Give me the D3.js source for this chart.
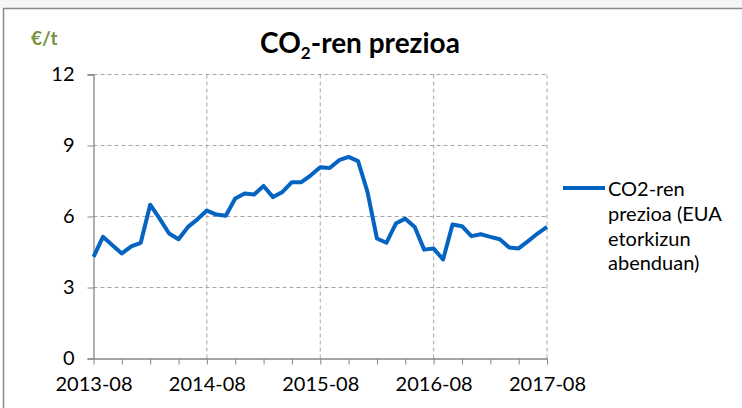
<!DOCTYPE html>
<html>
<head>
<meta charset="utf-8">
<script src="https://cdn.jsdelivr.net/npm/d3@7"></script>
<style>
  body { margin: 0; background: #fff; }
  text { font-family: Lato, "Open Sans", sans-serif; }
</style>
</head>
<body>
<div id="chart"></div>
<script>
// data
var months = [
  "2013-08","2013-09","2013-10","2013-11","2013-12","2014-01","2014-02","2014-03","2014-04","2014-05","2014-06","2014-07",
  "2014-08","2014-09","2014-10","2014-11","2014-12","2015-01","2015-02","2015-03","2015-04","2015-05","2015-06","2015-07",
  "2015-08","2015-09","2015-10","2015-11","2015-12","2016-01","2016-02","2016-03","2016-04","2016-05","2016-06","2016-07",
  "2016-08","2016-09","2016-10","2016-11","2016-12","2017-01","2017-02","2017-03","2017-04","2017-05","2017-06","2017-07",
  "2017-08"
];
var prices = [
  4.29, 5.14, 4.79, 4.44, 4.74, 4.89, 6.50, 5.91, 5.28, 5.04, 5.56, 5.88,
  6.25, 6.08, 6.03, 6.76, 6.97, 6.93, 7.29, 6.82, 7.04, 7.45, 7.45, 7.74,
  8.08, 8.05, 8.38, 8.52, 8.34, 7.04, 5.07, 4.89, 5.70, 5.91, 5.56, 4.60,
  4.65, 4.18, 5.66, 5.59, 5.17, 5.25, 5.14, 5.04, 4.69, 4.65, 4.96, 5.28,
  5.56
];
var yTicks = [0, 3, 6, 9, 12];
var xLabels = ["2013-08", "2014-08", "2015-08", "2016-08", "2017-08"];
var legendLines = ["CO2-ren", "prezioa (EUA", "etorkizun", "abenduan)"];

var width = 742, height = 408;
var margin = {top: 74.5, right: 195, bottom: 50, left: 93.5};

var svg = d3.select("#chart").append("svg")
    .attr("width", width)
    .attr("height", height);

// outer frame
svg.append("rect")
    .attr("x", 0).attr("y", 0)
    .attr("width", width).attr("height", 8)
    .attr("fill", "#f6f6f6");
svg.append("rect")
    .attr("x", 3.5).attr("y", 8.5)
    .attr("width", 800).attr("height", 500)
    .attr("fill", "#fff")
    .attr("stroke", "#8a8a8a")
    .attr("stroke-width", 1.5);

var x = d3.scalePoint()
    .domain(months)
    .range([margin.left, 547]);

var y = d3.scaleLinear()
    .domain([0, 12])
    .range([358.5, margin.top]);

// grid
var grid = svg.append("g").attr("id", "grid")
    .attr("stroke", "#a6a6a6")
    .attr("stroke-dasharray", "4,3");

grid.selectAll(".hgrid")
    .data(yTicks.filter(function(d) { return d > 0; }))
    .enter().append("line")
    .attr("x1", margin.left).attr("x2", 547)
    .attr("y1", function(d) { return y(d); })
    .attr("y2", function(d) { return y(d); });

grid.selectAll(".vgrid")
    .data(xLabels.slice(1))
    .enter().append("line")
    .attr("x1", function(d) { return x(d); })
    .attr("x2", function(d) { return x(d); })
    .attr("y1", y(12)).attr("y2", y(0));

// y axis
var yAxis = svg.append("g")
    .attr("transform", "translate(" + margin.left + ",0)")
    .call(d3.axisLeft(y).tickValues(yTicks).tickSize(6).tickPadding(13));
yAxis.select(".domain").attr("stroke", "#868686").attr("stroke-width", 1.3);
yAxis.selectAll(".tick line").attr("stroke", "#868686");
yAxis.selectAll("text")
    .attr("fill", "#000")
    .style("font-size", "20px")
    .style("font-family", "Lato, sans-serif");

// x axis
var xAxis = svg.append("g")
    .attr("transform", "translate(0," + y(0) + ")")
    .call(d3.axisBottom(x)
        .tickValues(months.filter(function(d, i) { return i % 3 === 0; }))
        .tickSize(6)
        .tickSizeOuter(0)
        .tickPadding(12)
        .tickFormat(function(d) { return xLabels.indexOf(d) >= 0 ? d : ""; }));
xAxis.select(".domain").attr("stroke", "#868686").attr("stroke-width", 1.3);
xAxis.selectAll(".tick line").attr("stroke", "#868686");
xAxis.selectAll("text")
    .attr("fill", "#000")
    .style("font-size", "20px")
    .style("font-family", "Lato, sans-serif");

// line
var line = d3.line()
    .x(function(d, i) { return x(months[i]); })
    .y(function(d) { return y(d); });

svg.append("path")
    .datum(prices)
    .attr("fill", "none")
    .attr("stroke", "#0563c1")
    .attr("stroke-width", 4)
    .attr("stroke-linejoin", "round")
    .attr("d", line);

// titles
var title = svg.append("text")
    .attr("x", 360).attr("y", 53)
    .attr("text-anchor", "middle")
    .style("font-size", "28px")
    .style("font-weight", "bold");
title.append("tspan").text("CO");
title.append("tspan").attr("dy", 6).style("font-size", "17px").text("2");
title.append("tspan").attr("dy", -6).text("-ren prezioa");

svg.append("text")
    .attr("x", 31).attr("y", 45)
    .attr("fill", "#76923c")
    .style("font-size", "19px")
    .style("font-weight", "bold")
    .text("€/t");

// legend
var legend = svg.append("g").attr("id", "legend");
legend.append("line")
    .attr("x1", 563).attr("x2", 605)
    .attr("y1", 188).attr("y2", 188)
    .attr("stroke", "#0563c1")
    .attr("stroke-width", 4);
legend.selectAll("text")
    .data(legendLines)
    .enter().append("text")
    .attr("x", 608)
    .attr("y", function(d, i) { return 196 + i * 24.8; })
    .style("font-size", "20px")
    .text(function(d) { return d; });
</script>
</body>
</html>
